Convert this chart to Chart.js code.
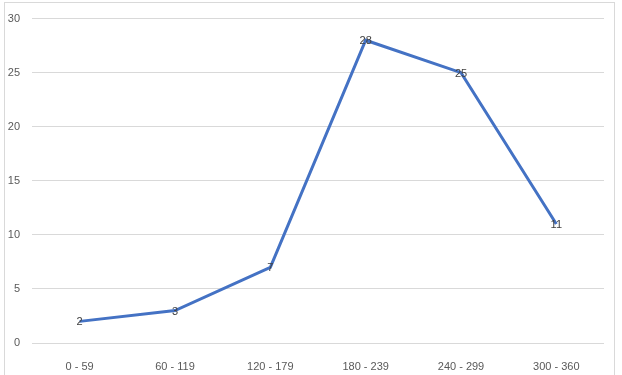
<!DOCTYPE html>
<html>
<head>
<meta charset="utf-8">
<script src="https://cdn.jsdelivr.net/npm/chart.js@4/dist/chart.umd.min.js"></script>
<style>
  html, body { margin: 0; padding: 0; background: #fff; }
  #frame {
    position: absolute; left: 4px; top: 2px; width: 609px; height: 380px;
    border-left: 1px solid #d9d9d9; border-top: 1px solid #d9d9d9; border-right: 1px solid #d9d9d9;
  }
  #wrap { position: absolute; left: 0; top: 0; width: 622px; height: 375px; }
</style>
</head>
<body>
<div id="frame"></div>
<div id="wrap"><canvas id="chart" width="622" height="375"></canvas></div>
<script>
// Category bins and counts
const categories = ['0 - 59', '60 - 119', '120 - 179', '180 - 239', '240 - 299', '300 - 360'];
const counts = [2, 3, 7, 28, 25, 11];
const yTicks = [0, 5, 10, 15, 20, 25, 30];

// Excel-style data labels, centred on each point
const pointLabels = {
  id: 'pointLabels',
  afterDatasetsDraw(chart) {
    const ctx = chart.ctx;
    ctx.save();
    ctx.font = '11px "Liberation Sans", "DejaVu Sans", sans-serif';
    ctx.fillStyle = '#404040';
    ctx.textAlign = 'center';
    ctx.textBaseline = 'middle';
    chart.getDatasetMeta(0).data.forEach((pt, i) => {
      ctx.fillText(String(counts[i]), pt.x, pt.y + 1);
    });
    ctx.restore();
  }
};

new Chart(document.getElementById('chart'), {
  type: 'line',
  data: {
    labels: categories,
    datasets: [{
      data: counts,
      borderColor: '#4472C4',
      borderWidth: 3,
      pointRadius: 0,
      tension: 0,
      fill: false
    }]
  },
  options: {
    responsive: false,
    animation: false,
    layout: { padding: { left: 0, right: 18, top: 17, bottom: 0 } },
    plugins: { legend: { display: false }, tooltip: { enabled: false } },
    scales: {
      x: {
        offset: true,
        grid: { display: false },
        border: { display: false },
        ticks: { color: '#595959', font: { size: 11, family: '"Liberation Sans", "DejaVu Sans", sans-serif' }, padding: 9, maxRotation: 0 },
        afterFit: s => { s.height = 32; }
      },
      y: {
        min: 0,
        max: 30,
        afterBuildTicks: s => { s.ticks = yTicks.map(v => ({ value: v })); },
        grid: { color: '#d9d9d9', drawTicks: false },
        border: { display: false },
        ticks: { color: '#595959', font: { size: 11, family: '"Liberation Sans", "DejaVu Sans", sans-serif' }, padding: 12 },
        afterFit: s => { s.width = 32; }
      }
    }
  },
  plugins: [pointLabels]
});
</script>
</body>
</html>
